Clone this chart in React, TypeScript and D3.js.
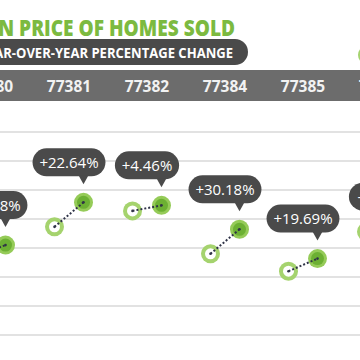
import React from 'react';
import * as d3 from 'd3';

// zip codes across the header, the last one is cut off on the right
const zips = ['77380', '77381', '77382', '77384', '77385', '77386'];
const years = ['2015', '2016'];
// median price in $K, earlier year (ring) and later year (filled)
const prevPrice = [136.8, 186.5, 214, 140, 110, 178];
const currPrice = [155, 228.7, 223.5, 182.25, 131.7, 169.5];
const changeLabels = ['+13.28%', '+22.64%', '+4.46%', '+30.18%', '+19.69%', '-4.78%'];

const W = 360, H = 360;
const GREEN = '#7cba40';
const DARK = '#4a4a4a';

export default function App() {
  const x = d3.scaleBand<string>().domain(zips).range([-48, -48 + 78 * zips.length]);
  const xYear = d3.scalePoint<string>().domain(years).range([-14.5, 14.5]);
  const y = d3.scaleLinear().domain([0, 350]).range([335, 132]);
  const cx = (z: string) => (x(z) as number) + x.bandwidth() / 2;
  const font = '"Open Sans", "DejaVu Sans", sans-serif';

  return (
    <svg width={W} height={H} style={{ position: 'absolute', left: 0, top: 0, background: '#fff' }}>
      {/* title, cropped on the left */}
      <g transform="translate(235,35.5) scale(0.83,1)">
        <text textAnchor="end" fontFamily={font} fontWeight={800} fontSize={23} fill={GREEN}>
          MEDIAN PRICE OF HOMES SOLD
        </text>
      </g>
      {/* subtitle pill */}
      <rect x={-40} y={39} width={288} height={26} rx={13} fill={DARK} />
      <g transform="translate(233,57.5) scale(0.9,1)">
        <text textAnchor="end" fontFamily={font} fontWeight={700} fontSize={14.5} fill="#fff">
          YEAR-OVER-YEAR PERCENTAGE CHANGE
        </text>
      </g>
      {/* legend circle peeking from the right */}
      <circle cx={367} cy={55} r={9} fill="#a5d36e" />

      {/* gridlines */}
      {y.ticks(7).map(t => (
        <line key={t} x1={0} x2={W} y1={y(t)} y2={y(t)} stroke="#e2e2e2" strokeWidth={2} />
      ))}

      {/* zip header band */}
      <rect x={0} y={70} width={W} height={31} fill="#6c6c6c" />
      {zips.map(z => (
        <text key={z} x={cx(z)} y={91.5} textAnchor="middle" fontFamily={font} fontWeight={700}
          fontSize={15.5} fill="#f2f2f2">{z}</text>
      ))}

      {zips.map((z, i) => {
        const x0 = cx(z) + (xYear(years[0]) as number);
        const x1 = cx(z) + (xYear(years[1]) as number);
        const y0 = y(prevPrice[i]);
        const y1 = y(currPrice[i]);
        const label = changeLabels[i];
        const bw = label.length * 8.7 + 12;
        const bTop = y1 - 54, bBot = y1 - 26;
        return (
          <g key={z}>
            <circle cx={x0} cy={y0} r={9.5} fill="#a5d36e" />
            <circle cx={x0} cy={y0} r={5.5} fill="#fff" />
            <circle cx={x1} cy={y1} r={9.5} fill="#95cb58" />
            <circle cx={x1} cy={y1} r={6.5} fill="#6cb033" />
            <line x1={x0} y1={y0} x2={x1} y2={y1} stroke="#2f3347" strokeWidth={2}
              strokeDasharray="2,2" />
            <circle cx={x0} cy={y0} r={1.3} fill="#2f3347" />
            <circle cx={x1} cy={y1} r={1.3} fill="#2f3347" />
            {/* speech bubble */}
            <rect x={cx(z) - bw / 2} y={bTop} width={bw} height={bBot - bTop} rx={14} fill={DARK} />
            <path d={`M${x1 - 5},${bBot - 1}L${x1 + 5},${bBot - 1}L${x1},${y1 - 18}Z`} fill={DARK} />
            <text x={cx(z)} y={bTop + 19.5} textAnchor="middle" fontFamily={font} fontSize={15}
              fill="#fff">{label}</text>
          </g>
        );
      })}
    </svg>
  );
}
